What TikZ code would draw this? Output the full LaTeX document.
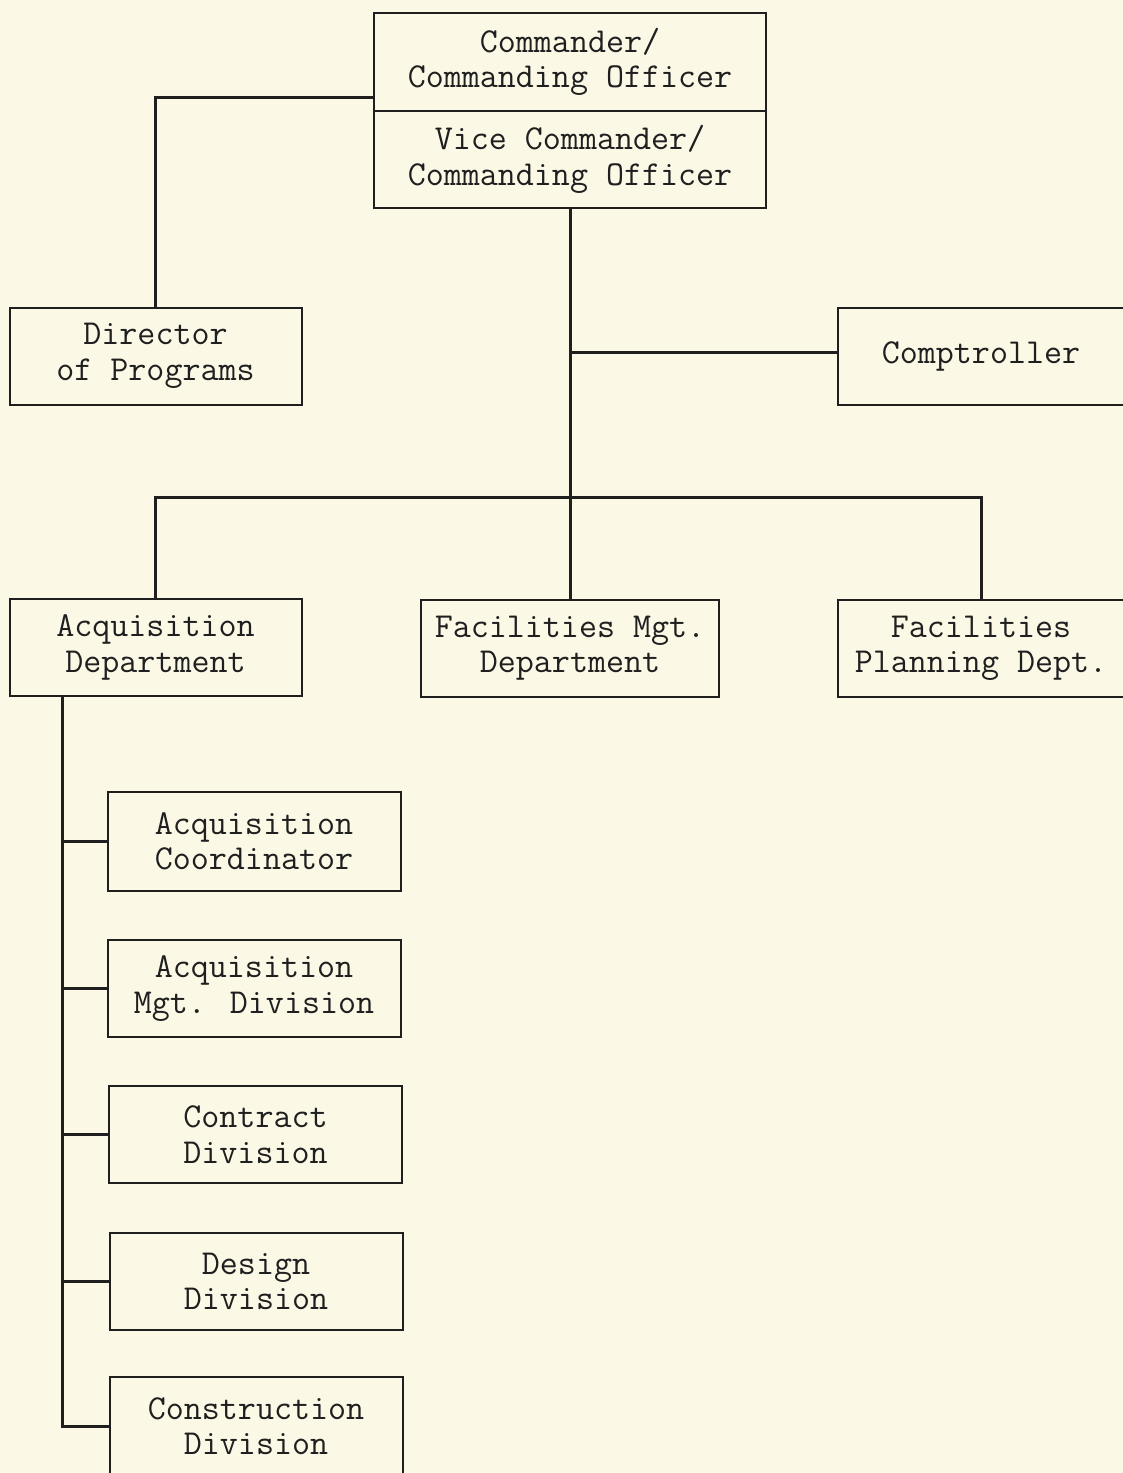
\documentclass[tikz,border=0pt]{standalone}
\usepackage{xcolor}
\newcommand{\boxwid}{292}
\newcommand{\boxhei}{97}
\newcommand{\spinex}{62}
\newcommand{\busy}{497}
\definecolor{papercolor}{RGB}{251,248,230}
\newcommand{\inkcolor}{black!88!white}

\begin{document}
\begin{tikzpicture}[x=1pt, y=-1pt,
        unit/.style={draw=\inkcolor, line width=2pt, align=center, inner sep=0pt,
            minimum width=\boxwid pt, minimum height=\boxhei pt, text=\inkcolor,
            font=\ttfamily\fontsize{35}{35.5}\selectfont},
        link/.style={draw=\inkcolor, line width=3pt}]
        % paper
        \fill[papercolor] (0, 0) rectangle (1123, 1473);
        \useasboundingbox (0, 0) rectangle (1123, 1473);

        \coordinate (hub) at (570, \busy);
        \coordinate (mid) at (570, 352);
        \coordinate (spine) at (\spinex, 0);

        % top
        \node[unit, minimum width=392pt, minimum height=98pt] (cmd) at (570, 62) {Commander/\\Commanding Officer};
        \node[unit, minimum width=392pt] (vice) at (570, 159.5) {Vice Commander/\\Commanding Officer};

        % staff
        \node[unit] (dirprog) at (155.5, 356) {Director\\of Programs};
        \node[unit, minimum width=286pt] (comp) at (981, 356) {Comptroller};

        % departments
        \node[unit] (acqdept) at (155.5, 647.5) {Acquisition\\Department};
        \node[unit, minimum width=298pt] (facmgt) at (570, 648) {Facilities Mgt.\\Department};
        \node[unit, minimum width=286pt] (facplan) at (981, 648.5) {Facilities\\Planning Dept.};

        % divisions
        \node[unit, minimum width=293pt, minimum height=99pt] (acqcoord) at (254, 841.5) {Acquisition\\Coordinator};
        \node[unit, minimum width=293pt] (acqmgt) at (254, 988.5) {Acquisition\\Mgt. Division};
        \node[unit, minimum width=293pt] (contract) at (255.5, 1134.5) {Contract\\Division};
        \node[unit, minimum width=293pt] (design) at (256, 1281.5) {Design\\Division};
        \node[unit, minimum width=293pt, minimum height=98pt] (constr) at (256, 1426) {Construction\\Division};

        % lines
        \draw[link] (dirprog.north) |- ([yshift=15pt]cmd.south west);
        \draw[link] (vice.south) -- (hub);
        \draw[link] (mid) -- (mid -| comp.west);
        \draw[link] (acqdept.north) |- (facplan.north |- hub) -- (facplan.north);
        \draw[link] (hub) -- (facmgt.north);

        \draw[link] (acqdept.south -| spine) |- (constr.west);
        \draw[link] (acqcoord.west) -- (acqcoord.west -| spine);
        \draw[link] (acqmgt.west) -- (acqmgt.west -| spine);
        \draw[link] (contract.west) -- (contract.west -| spine);
        \draw[link] (design.west) -- (design.west -| spine);
    \end{tikzpicture}
\end{document}
